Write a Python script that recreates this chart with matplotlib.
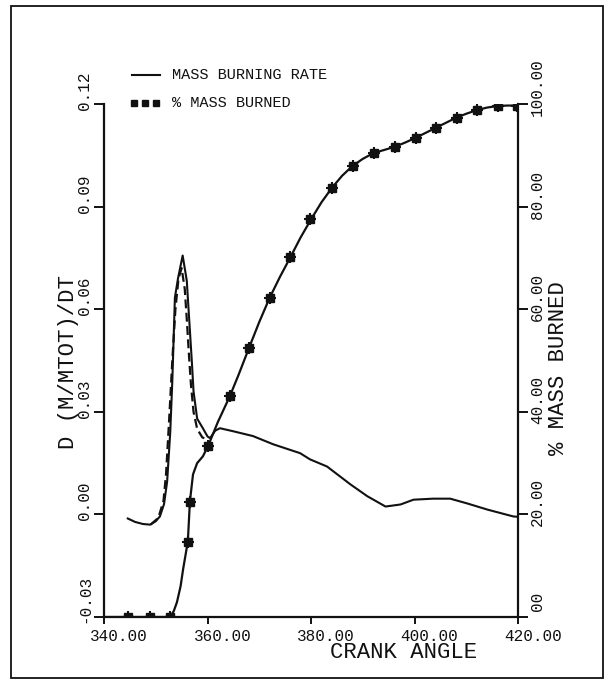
import matplotlib
matplotlib.use('Agg')
import matplotlib.pyplot as plt
from matplotlib.transforms import ScaledTranslation
from matplotlib.lines import Line2D
from matplotlib.patches import Rectangle

plt.rcParams['font.family'] = ['Liberation Mono', 'DejaVu Sans Mono']

# ---------------- data ----------------
rate_angle = [344.6, 346.0, 347.5, 348.9, 350.0, 350.8, 351.6, 352.2, 352.8, 353.2,
              353.7, 354.3, 355.2, 356.0, 356.2, 356.6, 357.0, 357.3, 358.0, 359.1,
              360.0, 360.5, 361.5, 362.4, 365.0, 368.8, 372.7, 377.9, 379.8, 383.1,
              387.6, 390.9, 394.4, 397.3, 399.8, 403.6, 406.9, 410.2, 414.1, 419.1, 420.0]
rate_value = [-0.0012, -0.0022, -0.0028, -0.0030, -0.0020, -0.0006, 0.0030, 0.0096, 0.0240, 0.0390,
              0.0634, 0.0690, 0.0757, 0.0683, 0.0633, 0.0537, 0.0440, 0.0360, 0.0280, 0.0252,
              0.0228, 0.0223, 0.0245, 0.0252, 0.0243, 0.0229, 0.0205, 0.0179, 0.0161, 0.0140,
              0.0088, 0.0053, 0.0023, 0.0029, 0.0043, 0.0046, 0.0046, 0.0032, 0.0014, -0.0006, -0.0007]

rate2_angle = [349.0, 350.5, 351.5, 352.0, 352.6, 353.2, 353.8, 354.4, 355.0, 355.6,
               356.0, 356.4, 356.8, 357.3, 358.0, 359.0, 360.0]
rate2_value = [-0.0030, -0.0010, 0.0040, 0.0120, 0.0280, 0.0450, 0.0600, 0.0690, 0.0720, 0.0660,
               0.0570, 0.0470, 0.0380, 0.0300, 0.0250, 0.0225, 0.0220]

burned_angle = [340, 344, 348, 352, 352.8, 353.5, 354.1, 354.8, 355.3, 356.2, 356.6, 357.2,
                358.0, 359.1, 360.1, 362, 364.3, 366, 368, 370, 372, 374, 376, 378, 380,
                382, 384, 386, 388, 390, 392, 394, 396, 398, 400, 402, 404, 406, 408,
                410, 412, 414, 416, 418, 420]
burned_pct = [0, 0, 0, 0, 0, 1.2, 2.9, 6.0, 9.4, 14.7, 22.5, 27.8,
              30.0, 31.3, 33.3, 38.0, 43.0, 47.2, 52.4, 57.5, 62.2, 66.3, 70.1, 74.0, 77.5,
              80.8, 83.6, 86.0, 87.9, 89.3, 90.4, 91.0, 91.6, 92.4, 93.3, 94.3, 95.3, 96.3, 97.3,
              98.1, 98.8, 99.3, 99.6, 99.7, 99.7]

marker_angle = [344.6, 348.9, 352.8, 356.2, 356.6, 360.1, 364.3, 368.0, 372.1, 376.0, 379.8,
                384.1, 388.2, 392.2, 396.3, 400.3, 404.2, 408.3, 412.1, 416.2, 419.9]
marker_pct = [0, 0, 0, 14.7, 22.5, 33.3, 43.0, 52.4, 62.2, 70.1, 77.5,
              83.6, 87.9, 90.4, 91.6, 93.3, 95.3, 97.3, 98.8, 99.6, 99.6]

x_ticks = [340, 360, 380, 400, 420]
x_tick_labels = ['340.00', '360.00', '380.00', '400.00', '420.00']
left_ticks = [-0.03, 0.00, 0.03, 0.06, 0.09, 0.12]
left_tick_labels = ['-0.03', '0.00', '0.03', '0.06', '0.09', '0.12']
right_ticks = [0, 20, 40, 60, 80, 100]
right_tick_labels = ['00', '20.00', '40.00', '60.00', '80.00', '100.00']

# ---------------- layout ----------------
W, H = 613, 683
fig = plt.figure(figsize=(W / 100, H / 100), dpi=100)
L, R, T, B = 104, 518, 104, 617
ax = fig.add_axes([L / W, 1 - B / H, (R - L) / W, (B - T) / H])
ax2 = ax.twinx()

# figure border
fig.add_artist(Rectangle((11 / W, 1 - 678 / H), (603 - 11) / W, (678 - 6) / H,
                         transform=fig.transFigure, fill=False, lw=1.3, ec='#111111'))

ink = '#111111'
ax.plot(rate2_angle, rate2_value, color=ink, lw=1.6, ls=(0, (4, 2)))
ax.plot(rate_angle, rate_value, color=ink, lw=1.5)
ax2.plot(burned_angle, burned_pct, color=ink, lw=1.6)
ax2.plot(marker_angle, marker_pct, ls='none', marker='s', ms=5.5, color=ink)
ax2.plot(marker_angle, marker_pct, ls='none', marker='+', ms=8, mew=1.5, color=ink)

ax.set_xlim(340, 420)
ax.set_ylim(-0.03, 0.12)
ax2.set_ylim(0, 100)

for a in (ax, ax2):
    a.spines['top'].set_visible(False)
    for s in a.spines.values():
        s.set_linewidth(1.6)
        s.set_color(ink)
ax.spines['right'].set_visible(False)
ax2.spines['left'].set_visible(False)
ax2.spines['bottom'].set_visible(False)

ax.set_xticks(x_ticks)
ax.set_yticks(left_ticks)
ax2.set_yticks(right_ticks)
ax.tick_params(axis='x', direction='out', length=5, width=1.4, color=ink, labelbottom=False)
ax.tick_params(axis='y', direction='out', length=7, width=1.4, color=ink, labelleft=False)
ax2.tick_params(axis='y', direction='out', length=7, width=1.4, color=ink, labelright=False)

tfs = 11.5
ds = fig.dpi_scale_trans
for v, s in zip(left_ticks, left_tick_labels):
    ax.text(0, v, s, transform=ax.get_yaxis_transform() + ScaledTranslation(-0.12, -0.06, ds),
            rotation=90, ha='right', va='bottom', fontsize=tfs, color=ink)
for v, s in zip(right_ticks, right_tick_labels):
    dy = -0.12 if len(s) > 2 else 0.06
    ax2.text(1, v, s, transform=ax2.get_yaxis_transform() + ScaledTranslation(0.12, dy, ds),
             rotation=90, ha='left', va='bottom', fontsize=tfs, color=ink)
for v, s in zip(x_ticks, x_tick_labels):
    ax.text(v, 0, s, transform=ax.get_xaxis_transform() + ScaledTranslation(-0.14, -0.12, ds),
            ha='left', va='top', fontsize=tfs, color=ink)

lfs = 16
ax.set_xlabel('CRANK ANGLE', fontsize=lfs, color=ink, ha='left', va='center')
ax.xaxis.set_label_coords((330 - L) / (R - L), -(653 - B) / (B - T))
ax.set_ylabel('D (M/MTOT)/DT', fontsize=lfs, color=ink, va='center', ha='center')
ax.yaxis.set_label_coords((68 - L) / (R - L), (B - 362) / (B - T))
ax2.set_ylabel('% MASS BURNED', fontsize=lfs, color=ink, va='center', ha='center', rotation=90)
ax2.yaxis.set_label_coords((559 - L) / (R - L), (B - 368) / (B - T))

# legend (drawn by hand, as in the original plotter output)
fig.add_artist(Line2D([132 / W, 160 / W], [1 - 75 / H] * 2, color=ink, lw=1.5))
fig.add_artist(Line2D([134 / W, 145 / W, 156 / W], [1 - 103 / H] * 3, ls='none',
                      marker='s', ms=4.5, color=ink))
fig.text(172 / W, 1 - 75 / H, 'MASS BURNING RATE', ha='left', va='center', fontsize=11, color=ink)
fig.text(172 / W, 1 - 103 / H, '% MASS BURNED', ha='left', va='center', fontsize=11, color=ink)

fig.savefig('out.png', dpi=100)
